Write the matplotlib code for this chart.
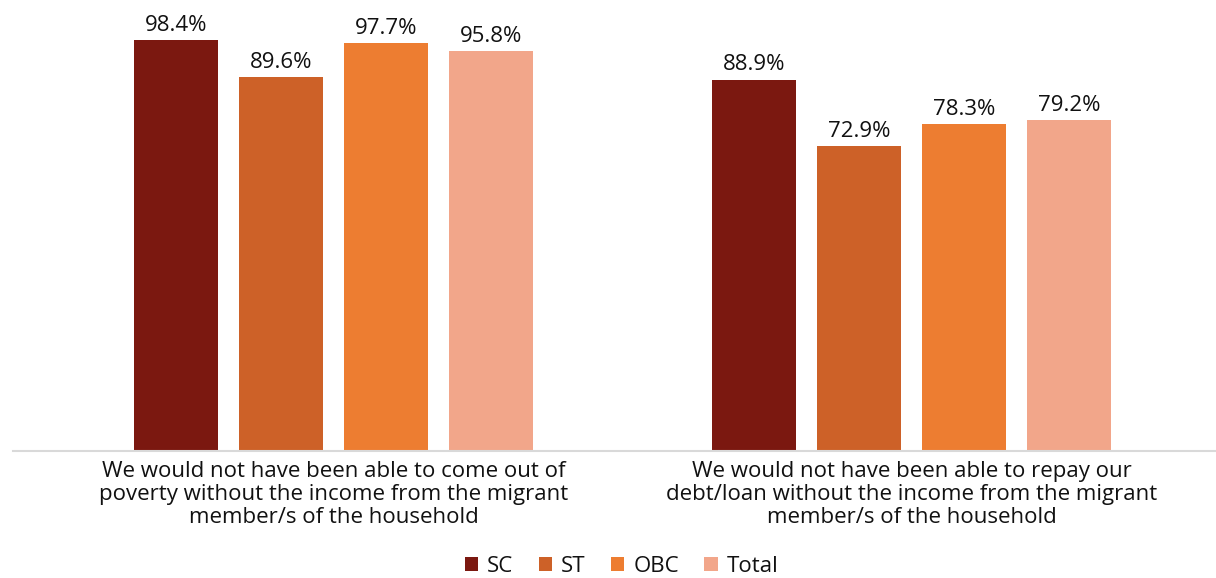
import matplotlib
matplotlib.use("Agg")
import matplotlib.pyplot as plt
import numpy as np
from matplotlib.patches import Patch

plt.rcParams['font.family'] = ['Open Sans', 'DejaVu Sans']

categories = [
    "We would not have been able to come out of\npoverty without the income from the migrant\nmember/s of the household",
    "We would not have been able to repay our\ndebt/loan without the income from the migrant\nmember/s of the household",
]
series = ["SC", "ST", "OBC", "Total"]
sc = [98.4, 88.9]
st = [89.6, 72.9]
obc = [97.7, 78.3]
total = [95.8, 79.2]
colors = ["#7B1810", "#CD6128", "#ED7D31", "#F2A68A"]

fig = plt.figure(figsize=(12.16, 5.78), dpi=100)
ax = fig.add_axes([13 / 1216, (578 - 451) / 578, 1 - 13 / 1216, 451 / 578])

x = np.arange(len(categories))
width = 84 / 578
step = 105 / 578
values = [sc, st, obc, total]
for i, (name, vals, c) in enumerate(zip(series, values, colors)):
    pos = x + (i - 1.5) * step
    bars = ax.bar(pos, vals, width=width, color=c, label=name)
    for b, v in zip(bars, vals):
        ax.text(b.get_x() + b.get_width() / 2, v + 1.0, f"{v:.1f}%",
                ha="center", va="bottom", fontsize=16, color="#111111")

ax.set_xlim(-(333.5 - 13) / 578, 1 + (1216 - 911.5) / 578)
ax.set_ylim(0, 451 / 4.177)
ax.set_xticks(x)
ax.set_xticklabels(categories, fontsize=16, color="#111111", linespacing=1.14)
ax.tick_params(axis="x", length=0, pad=7)
ax.set_yticks([])
for s in ["top", "right", "left"]:
    ax.spines[s].set_visible(False)
ax.spines["bottom"].set_color("#D9D9D9")
ax.spines["bottom"].set_linewidth(1.5)

handles = [Patch(facecolor=c, label=n) for n, c in zip(series, colors)]
fig.legend(handles=handles, loc="center", bbox_to_anchor=(621.5 / 1216, 1 - 566 / 578),
           ncol=4, frameon=False, fontsize=16, handlelength=0.6, handleheight=0.6,
           handletextpad=0.4, columnspacing=1.15, labelcolor="#111111",
           borderpad=0.2)

fig.savefig("out.png", dpi=100)
